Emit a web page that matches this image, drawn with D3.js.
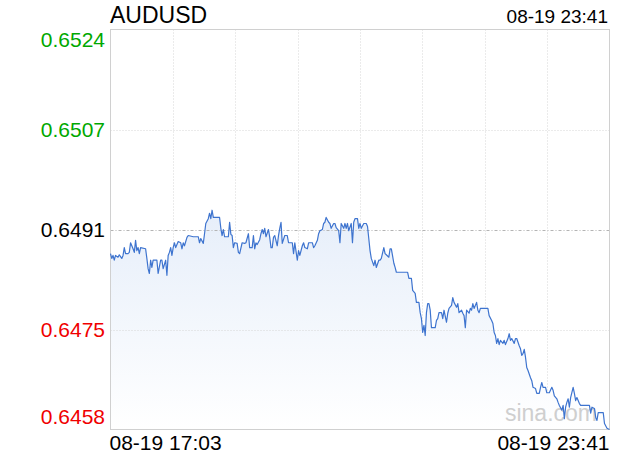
<!DOCTYPE html>
<html><head><meta charset="utf-8">
<script src="https://cdn.jsdelivr.net/npm/d3@7"></script>
<style>
html,body{margin:0;padding:0;background:#fff;}
svg{display:block;font-family:"Liberation Sans",Arial,Helvetica,sans-serif;}
</style></head>
<body><svg id="c" width="620" height="460"></svg>
<script>
const symbol = "AUDUSD";
const stampText = "08-19 23:41";
const timeLabels = ["08-19 17:03", "08-19 23:41"];
const prevClose = 0.64910;
const yTickValues = [0.65242, 0.65076, 0.64910, 0.64744, 0.64578];
const yTickLabels = ["0.6524", "0.6507", "0.6491", "0.6475", "0.6458"];
// minutes after 17:03
const minutes = [0,1,2,3,4,6,7,9,10,11,12,14,15,16,18,19,20,21,22,23,24,28,29,30,31,32,33,34,37,38,40,41,42,44,45,46,47,48,49,50,51,52,54,56,57,58,59,61,62,
66,70,71,72,74,75,76,78,79,80,81,82,84,87,88,89,90,91,94,95,96,97,98,99,101,102,103,105,107,108,110,111,113,114,115,116,117,119,120,121,122,123,124,126,127,128,129,130,131,
133,134,135,136,137,139,141,142,145,146,147,149,150,151,153,154,155,157,158,161,162,163,165,166,167,169,170,171,172,174,175,176,178,179,180,182,183,184,186,187,188,189,190,192,193,194,195,197,198,199,200,202,204,205,206,207,208,210,211,212,214,215,216,218,219,220,222,223,224,226,227,228,237,238,240,241,243,244,246,247,248,249,250,251,252,253,254,255,256,259,260,261,262,
264,265,266,268,269,270,272,273,274,276,277,278,280,281,282,283,284,286,287,288,289,290,292,293,294,295,301,302,304,305,306,307,308,309,310,311,313,314,315,317,318,319,320,322,323,324,326,327,328,329,330,331,332,333,335,336,337,339,340,342,343,344,345,347,348,350,352,353,354,356,357,358,360,361,362,363,364,365,366,367,369,370,371,372,374,375,382,383,384,386,387,388,389,393,394,396,398];
const prices = [0.64870,0.64862,0.64867,0.64859,0.64867,0.64864,0.64868,0.64862,0.64867,0.64880,0.64870,0.64870,0.64872,0.64888,0.64878,0.64872,0.64892,0.64875,0.64880,0.64870,0.64880,0.64878,0.64862,0.64845,0.64837,0.64859,0.64847,0.64859,0.64859,0.64837,0.64859,0.64859,0.64845,0.64859,0.64834,0.64867,0.64872,0.64880,0.64867,0.64880,0.64888,0.64880,0.64890,0.64888,0.64878,0.64888,0.64883,0.64897,0.64900,
0.64898,0.64898,0.64888,0.64895,0.64887,0.64903,0.64920,0.64928,0.64937,0.64928,0.64942,0.64930,0.64930,0.64930,0.64912,0.64900,0.64910,0.64898,0.64898,0.64922,0.64902,0.64900,0.64880,0.64888,0.64887,0.64872,0.64870,0.64888,0.64887,0.64888,0.64903,0.64880,0.64880,0.64900,0.64878,0.64888,0.64885,0.64893,0.64903,0.64910,0.64903,0.64912,0.64898,0.64910,0.64897,0.64880,0.64880,0.64897,0.64900,
0.64883,0.64900,0.64912,0.64922,0.64887,0.64900,0.64900,0.64888,0.64888,0.64870,0.64888,0.64859,0.64875,0.64867,0.64883,0.64888,0.64880,0.64878,0.64888,0.64888,0.64880,0.64883,0.64892,0.64903,0.64908,0.64910,0.64920,0.64922,0.64930,0.64922,0.64920,0.64912,0.64920,0.64920,0.64913,0.64908,0.64888,0.64920,0.64912,0.64920,0.64912,0.64920,0.64908,0.64920,0.64888,0.64922,0.64928,0.64928,0.64912,0.64920,0.64912,0.64920,0.64920,0.64915,0.64895,0.64875,0.64862,0.64850,0.64859,0.64847,0.64859,0.64859,0.64862,0.64880,0.64870,0.64868,0.64864,0.64878,0.64878,0.64854,0.64847,0.64839,0.64839,0.64829,0.64829,0.64809,0.64804,0.64789,0.64789,0.64772,0.64762,0.64739,0.64751,0.64734,0.64772,0.64787,0.64787,0.64776,0.64747,0.64747,0.64759,0.64762,0.64772,
0.64772,0.64762,0.64776,0.64756,0.64771,0.64779,0.64784,0.64797,0.64789,0.64781,0.64787,0.64772,0.64776,0.64771,0.64767,0.64747,0.64776,0.64771,0.64779,0.64776,0.64787,0.64779,0.64789,0.64776,0.64772,0.64779,0.64779,0.64767,0.64759,0.64754,0.64739,0.64734,0.64721,0.64729,0.64719,0.64726,0.64721,0.64726,0.64719,0.64729,0.64737,0.64726,0.64729,0.64721,0.64729,0.64729,0.64717,0.64712,0.64701,0.64704,0.64711,0.64698,0.64681,0.64676,0.64664,0.64659,0.64648,0.64646,0.64638,0.64638,0.64648,0.64656,0.64648,0.64648,0.64639,0.64639,0.64648,0.64643,0.64634,0.64629,0.64623,0.64618,0.64610,0.64618,0.64596,0.64615,0.64623,0.64629,0.64615,0.64631,0.64648,0.64638,0.64626,0.64631,0.64621,0.64618,0.64618,0.64605,0.64615,0.64613,0.64598,0.64593,0.64606,0.64606,0.64588,0.64580,0.64578];
const totalMinutes = 398;

const data = minutes.map((m, i) => ({m, p: prices[i]}));
const svg = d3.select("#c");
const L = 110.5, R = 609.5, T = 29.5, B = 429.5;

const x = d3.scaleLinear().domain([0, totalMinutes]).range([L, R]);
const y = d3.scaleLinear().domain([yTickValues[4], yTickValues[0]]).range([B, T]);

const defs = svg.append("defs");
const grad = defs.append("linearGradient").attr("id","g").attr("gradientUnits","userSpaceOnUse")
  .attr("x1",0).attr("x2",0).attr("y1",y(yTickValues[1])).attr("y2",B);
grad.append("stop").attr("offset","0").attr("stop-color","#dde8f8");
grad.append("stop").attr("offset","1").attr("stop-color","#ffffff");

// vertical grid
const vcols = d3.range(1, 8).map(i => totalMinutes * i / 8);
svg.append("g").selectAll("line").data(vcols).join("line")
  .attr("x1", d => Math.round(x(d)) + 0.5).attr("x2", d => Math.round(x(d)) + 0.5)
  .attr("y1", T).attr("y2", B)
  .attr("stroke", "#d6d6d6").attr("stroke-dasharray", "1,2");

// area
const area = d3.area().x(d => x(d.m)).y0(B).y1(d => y(d.p));
svg.append("path").datum(data).attr("d", area).attr("fill", "url(#g)");

// horizontal grid
svg.append("g").selectAll("line").data(yTickValues.slice(1, 4)).join("line")
  .attr("x1", L).attr("x2", R)
  .attr("y1", d => Math.round(y(d)) + 0.5).attr("y2", d => Math.round(y(d)) + 0.5)
  .attr("stroke", d => d === prevClose ? "#b4b4b4" : "#d6d6d6")
  .attr("stroke-dasharray", d => d === prevClose ? "3,2,1,2" : "1,2");

// frame
svg.append("rect").attr("x", L).attr("y", T).attr("width", R - L).attr("height", B - T)
  .attr("fill", "none").attr("stroke", "#d0d0d0");

// watermark
svg.append("text").attr("x", 597).attr("y", 421).attr("text-anchor", "end")
  .attr("font-size", 23).attr("fill", "#cfcfcf").text("sina.com");

// line
const line = d3.line().x(d => x(d.m)).y(d => y(d.p));
svg.append("path").datum(data).attr("d", line).attr("fill", "none")
  .attr("stroke", "#3e74cf").attr("stroke-width", 1.2).attr("stroke-linejoin", "round");

// y labels
svg.append("g").selectAll("text").data(yTickValues).join("text")
  .attr("x", 105).attr("text-anchor", "end")
  .attr("y", d => Math.max(T + 10, Math.min(B - 13, y(d))) + 7.5)
  .attr("font-size", 21)
  .attr("fill", d => d > prevClose + 1e-9 ? "#00a800" : (d < prevClose - 1e-9 ? "#f00000" : "#000"))
  .text((d, i) => yTickLabels[i]);

// title and stamp
svg.append("text").attr("x", 110).attr("y", 23).attr("font-size", 23).attr("fill", "#000").text(symbol);
svg.append("text").attr("x", 608).attr("y", 23).attr("text-anchor", "end").attr("font-size", 19).attr("fill", "#000").text(stampText);

// time labels
svg.append("text").attr("x", x(0) - 1).attr("y", 450).attr("font-size", 21).attr("fill", "#000").text(timeLabels[0]);
svg.append("text").attr("x", x(totalMinutes)).attr("y", 450).attr("text-anchor", "end").attr("font-size", 21).attr("fill", "#000").text(timeLabels[1]);
</script></body></html>
